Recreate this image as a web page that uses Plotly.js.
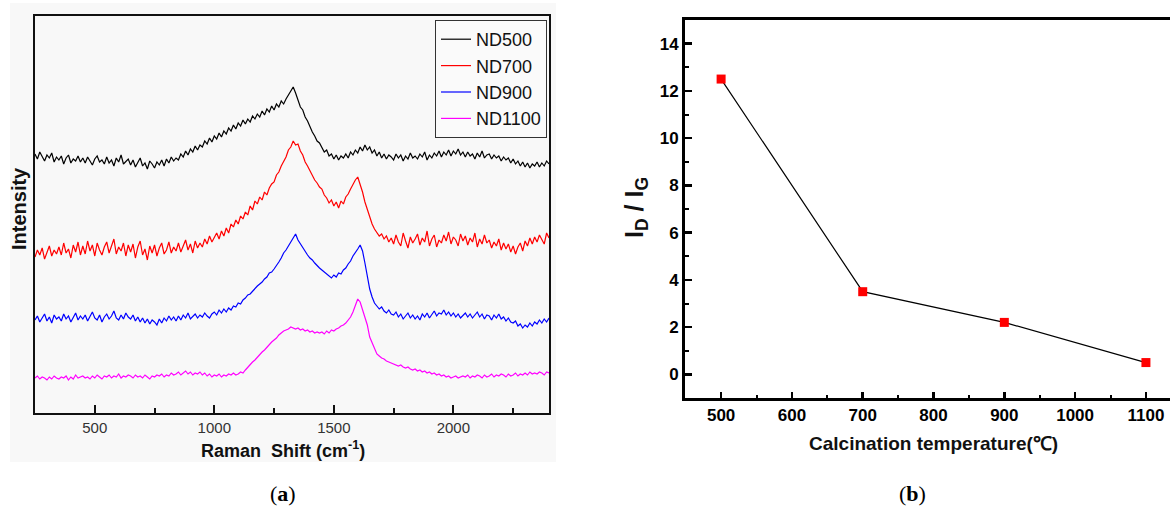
<!DOCTYPE html>
<html>
<head>
<meta charset="utf-8">
<script src="https://cdn.plot.ly/plotly-3.0.1.min.js"></script>
<style>
html,body{margin:0;padding:0;background:#ffffff;overflow:hidden;}
#chart{width:1170px;height:507px;}
</style>
</head>
<body>
<div id="chart"></div>
<script>
// ---------- Panel (a): Raman spectra (intensity in arbitrary units, stacked) ----------
const ramanStart = 250;   // cm-1
const ramanStep = 10;     // cm-1
const seriesNames = ["ND500", "ND700", "ND900", "ND1100"];
const ramanTickVals = [500, 1000, 1500, 2000];

const nd500 = [
259,254,261,256,252,258,255,260,251,256,
253,257,249,255,258,250,254,252,257,251,
255,250,256,252,248,254,257,251,253,249,
256,250,253,247,255,251,258,249,252,254,
248,253,246,251,255,247,250,244,252,249,
245,251,248,253,247,254,250,256,252,255,
253,259,256,262,258,264,261,267,263,268,
266,272,269,275,271,277,274,280,276,282,
279,285,282,288,284,290,287,293,289,294,
291,297,294,299,296,302,298,304,301,307,
303,309,306,312,309,
314,318,321,326,320,
314,306,303,296,292,286,281,277,272,270,
266,261,263,257,259,254,258,253,257,255,
259,255,261,258,263,260,266,262,268,263,
266,260,263,257,261,255,259,254,258,256,
253,259,255,258,252,257,254,260,255,257,
254,259,256,261,253,258,255,260,257,262,
256,261,258,263,257,262,259,264,258,261,
256,261,257,259,254,260,256,262,255,258,
259,254,258,255,257,252,256,253,255,250,
254,249,252,247,251,246,250,245,249,247,
251,246,250,247,252,249
];

const nd700 = [
156,163,158,165,154,161,167,157,163,159,
166,158,170,160,164,155,168,161,171,158,
167,159,172,162,168,157,170,163,158,166,
171,160,167,174,159,166,162,170,157,168,
161,169,155,166,172,158,164,153,167,160,
168,157,165,170,159,163,171,160,166,162,
170,161,167,173,163,169,160,172,165,170,
166,174,169,177,171,175,180,174,182,177,
185,180,189,186,193,189,197,194,201,198,
207,203,212,209,216,213,221,218,225,229,
231,238,241,247,251,
256,263,266,272,268,
269,262,258,251,247,242,238,233,230,226,
224,218,215,210,213,207,211,205,212,209,
216,219,224,229,233,236,229,221,211,203,
196,189,184,181,177,179,174,177,171,175,
169,178,171,167,180,172,165,176,170,174,
179,168,175,171,182,167,174,178,166,173,
170,178,172,181,169,176,173,167,179,172,
177,168,175,171,180,166,174,169,178,170,
173,165,171,167,174,163,170,164,169,161,
167,159,166,170,162,172,167,175,169,176,
171,178,173,169,180,175
];

const nd900 = [
93,97,91,95,99,92,96,90,98,94,
96,92,99,94,97,91,95,100,93,97,
94,98,92,96,101,95,93,98,91,96,
99,94,97,102,95,93,98,94,100,96,
94,98,92,96,91,95,90,94,89,93,
91,88,94,90,95,92,97,93,96,92,
97,93,98,95,100,94,97,99,95,98,
96,100,97,95,99,101,98,103,100,104,
101,105,103,107,106,110,109,113,115,118,
119,122,124,127,129,131,134,136,140,141,
144,147,151,155,160,
163,167,172,175,179,
173,169,165,162,158,155,153,150,147,145,
143,141,139,137,135,138,136,140,139,143,
145,149,152,157,160,164,168,162,150,138,
124,116,110,107,104,106,102,100,103,99,
98,101,96,99,94,97,100,95,98,94,
97,93,99,96,100,95,98,102,97,100,
99,103,98,101,97,100,96,99,95,98,
100,96,99,95,98,101,96,99,94,98,
97,93,98,95,99,94,96,92,95,91,
90,92,87,89,85,88,86,90,87,91,
89,93,90,94,91,95
];

const nd1100 = [
35,37,34,36,35,33,36,34,37,35,
34,36,35,37,33,36,34,38,35,36,
37,35,36,34,37,35,38,36,34,37,
36,38,35,37,36,39,35,37,36,38,
37,35,38,36,37,35,38,36,34,37,
36,38,37,39,36,38,37,40,38,39,
41,38,40,42,39,41,38,40,39,41,
38,40,37,39,36,38,37,39,36,38,
37,39,38,40,38,39,41,40,43,46,
48,51,53,56,58,61,63,66,68,71,
73,75,78,80,82,
83,84,86,85,84,
85,83,84,82,83,81,82,80,81,80,
81,79,82,80,83,82,84,85,87,88,
90,93,96,101,107,114,111,104,96,88,
76,70,64,59,57,55,54,52,51,50,
49,48,47,48,46,45,46,44,43,44,
42,43,41,42,40,41,39,40,38,39,
37,38,36,37,35,36,37,35,36,37,
36,38,35,37,36,38,37,35,38,36,
37,39,36,38,37,39,38,36,39,37,
38,40,37,39,38,40,38,41,39,40,
39,41,40,38,41,40
];

const seriesColors = ["#000000", "#ff0000", "#0000ff", "#ff00ff"];

// ---------- Panel (b): ID/IG ratio ----------
const calcTemp = [500, 700, 900, 1100];
const idIgRatio = [12.5, 3.5, 2.2, 0.5];
const tempTickVals = [500, 600, 700, 800, 900, 1000, 1100];
const ratioTickVals = [0, 2, 4, 6, 8, 10, 12, 14];

// ---------- build ----------
const W = 1170, H = 507;
const px = v => v / W;
const py = v => 1 - v / H;

const seriesData = [nd500, nd700, nd900, nd1100];
const traces = seriesData.map((vals, i) => ({
  type: "scatter",
  mode: "lines",
  name: seriesNames[i],
  x: vals.map((_, k) => ramanStart + k * ramanStep),
  y: vals,
  xaxis: "x",
  yaxis: "y",
  line: {color: seriesColors[i], width: 1.2},
  showlegend: true
}));

traces.push({
  type: "scatter",
  mode: "lines+markers",
  x: calcTemp,
  y: idIgRatio,
  xaxis: "x2",
  yaxis: "y2",
  line: {color: "#000000", width: 1.2},
  marker: {symbol: "square", size: 9, color: "#ff0000"},
  showlegend: false
});

const FONT = "Liberation Sans, Arial, sans-serif";
const SERIF = "Liberation Serif, DejaVu Serif, serif";
const bold = v => "<b>" + v + "</b>";

function ann(text, x, y, size, extra) {
  return Object.assign({
    text: text, xref: "paper", yref: "paper", x: px(x), y: py(y),
    xanchor: "center", yanchor: "middle", showarrow: false,
    font: {family: FONT, size: size, color: "#111"}
  }, extra || {});
}

const layout = {
  width: W,
  height: H,
  margin: {l: 0, r: 0, t: 0, b: 0},
  paper_bgcolor: "#ffffff",
  plot_bgcolor: "rgba(0,0,0,0)",
  font: {family: FONT, color: "#111111"},
  showlegend: true,
  legend: {
    x: px(547), y: py(20), xanchor: "right", yanchor: "top",
    bgcolor: "rgba(250,250,250,1)",
    bordercolor: "#333333", borderwidth: 1,
    font: {family: FONT, size: 18, color: "#111111"},
    tracegroupgap: 0
  },
  xaxis: {
    domain: [px(35), px(549)],
    range: [250, 2400],
    tickmode: "array", tickvals: ramanTickVals, ticktext: ramanTickVals.map(String),
    ticks: "inside", ticklen: 8, tickwidth: 2, tickcolor: "#111",
    minor: {dtick: 250, tick0: 0, ticks: "inside", ticklen: 5, tickwidth: 2, tickcolor: "#111"},
    showline: true, linewidth: 2, linecolor: "#111", mirror: true,
    showgrid: false, zeroline: false,
    tickfont: {family: FONT, size: 15, color: "#333"},
    anchor: "y"
  },
  yaxis: {
    domain: [py(413), py(16)],
    range: [0, 397],
    showticklabels: false, ticks: "",
    showline: true, linewidth: 2, linecolor: "#111", mirror: true,
    showgrid: false, zeroline: false,
    anchor: "x"
  },
  xaxis2: {
    domain: [px(685), 1],
    range: [449, 1134],
    tickmode: "array", tickvals: tempTickVals, ticktext: tempTickVals.map(bold),
    ticks: "inside", ticklen: 6, tickwidth: 2.5, tickcolor: "#000",
    minor: {dtick: 50, tick0: 0, ticks: "inside", ticklen: 3, tickwidth: 2, tickcolor: "#000"},
    showline: true, linewidth: 3, linecolor: "#000", mirror: true,
    showgrid: false, zeroline: false,
    tickfont: {family: FONT, size: 17, color: "#000", weight: "bold"},
    anchor: "y2"
  },
  yaxis2: {
    domain: [py(398), py(20)],
    range: [-1, 15],
    tickmode: "array", tickvals: ratioTickVals, ticktext: ratioTickVals.map(bold),
    ticks: "inside", ticklen: 7, tickwidth: 2.5, tickcolor: "#000",
    minor: {dtick: 1, tick0: 0, ticks: "inside", ticklen: 4, tickwidth: 2, tickcolor: "#000"},
    showline: true, linewidth: 3, linecolor: "#000", mirror: false,
    showgrid: false, zeroline: false,
    tickfont: {family: FONT, size: 17, color: "#000", weight: "bold"},
    anchor: "x2"
  },
  shapes: [
    {type: "rect", xref: "paper", yref: "paper", layer: "below",
     x0: px(10), x1: px(556), y0: py(462), y1: py(3),
     fillcolor: "#f8f8f8", line: {width: 0}}
  ],
  annotations: [
    ann("<b>Intensity</b>", 19, 209, 20, {textangle: -90}),
    ann("<b>Raman\u00A0\u00A0Shift (cm<sup>-1</sup>)</b>", 283, 449, 18),
    ann("<b>I<sub>D</sub> / I<sub>G</sub></b>", 636, 208, 25, {textangle: -90}),
    ann("<b>Calcination temperature(\u2103)</b>", 933, 443, 19),
    ann("(<b>a</b>)", 283, 493, 22, {font: {family: SERIF, size: 22, color: "#000"}}),
    ann("(<b>b</b>)", 912, 493, 22, {font: {family: SERIF, size: 22, color: "#000"}})
  ]
};

Plotly.newPlot("chart", traces, layout, {displayModeBar: false, staticPlot: true});
</script>
</body>
</html>
